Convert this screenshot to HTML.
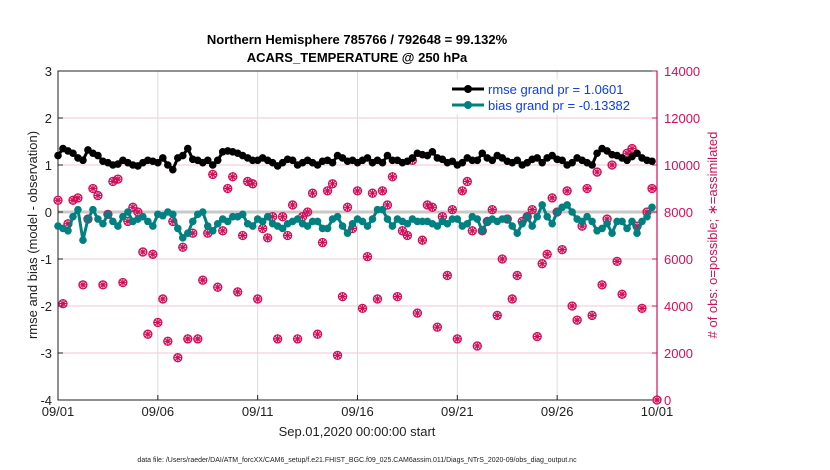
<!DOCTYPE html>
<html><head><meta charset="utf-8"><style>
body{margin:0;background:#fff;}
svg{display:block;font-family:"Liberation Sans",sans-serif;}
</style></head><body>
<svg id="chart" width="830" height="470">
<rect width="830" height="470" fill="#fff"/>
</svg>
<script>
const dateTicks=["09/01","09/06","09/11","09/16","09/21","09/26","10/01"];
const leftTicks=[3,2,1,0,-1,-2,-3,-4];
const rightTicks=[0,2000,4000,6000,8000,10000,12000,14000];
const rmse=[1.2,1.35,1.3,1.25,1.15,1.1,1.32,1.25,1.2,1.08,1.05,1.0,1.02,1.1,1.05,1.0,0.98,1.05,1.1,1.08,1.05,1.15,1.0,0.9,1.15,1.2,1.35,1.12,1.1,1.05,1.1,1.0,1.1,1.28,1.3,1.28,1.25,1.2,1.15,1.1,1.1,1.15,1.1,1.05,0.98,1.05,1.12,1.1,1.0,1.05,1.1,1.05,1.0,1.08,1.1,1.05,1.2,1.15,1.08,1.1,1.05,1.1,1.15,1.05,1.1,1.05,1.2,1.1,1.1,1.05,1.08,1.15,1.25,1.22,1.2,1.28,1.15,1.12,1.05,1.08,1.0,1.05,1.15,1.1,1.1,1.25,1.15,1.1,1.2,1.15,1.08,1.05,1.1,1.0,1.05,1.12,1.15,1.05,1.15,1.2,1.12,1.1,1.0,1.05,1.15,1.1,1.05,1.0,1.25,1.35,1.3,1.22,1.2,1.15,1.1,1.18,1.25,1.15,1.1,1.08];
const bias=[-0.3,-0.35,-0.4,-0.1,0.05,-0.6,-0.15,0.05,-0.15,-0.25,-0.05,-0.2,-0.3,-0.1,0.0,-0.2,-0.15,-0.1,-0.2,-0.3,-0.05,-0.08,0.0,-0.05,-0.35,-0.55,-0.45,-0.2,-0.05,0.0,-0.3,-0.4,-0.25,-0.15,-0.2,-0.1,-0.1,-0.05,-0.25,-0.3,-0.15,-0.2,-0.1,-0.25,-0.3,-0.35,-0.25,-0.2,-0.15,-0.25,-0.3,-0.2,-0.2,-0.35,-0.35,-0.15,-0.1,-0.3,-0.45,-0.25,-0.15,-0.2,-0.3,-0.15,0.05,0.05,-0.15,-0.3,-0.15,-0.2,-0.25,-0.15,-0.2,-0.2,-0.2,-0.25,-0.3,-0.2,-0.25,-0.15,-0.15,-0.3,-0.25,-0.1,-0.15,-0.4,-0.2,-0.15,-0.2,-0.15,-0.15,-0.3,-0.45,-0.25,-0.1,-0.3,-0.1,0.15,-0.1,-0.25,0.0,0.1,0.15,0.0,-0.15,-0.2,-0.1,-0.2,-0.4,-0.35,-0.25,-0.45,-0.2,-0.2,-0.35,-0.2,-0.45,-0.2,-0.1,0.1];
const obs=[8500,4100,7500,8500,8600,4900,7700,9000,8700,4900,7900,9300,9400,5000,7600,8200,8000,6300,2800,6200,3300,4300,2500,7600,1800,6500,2600,7100,2600,5100,7100,9600,4800,7200,9000,9500,4600,7000,9300,9200,4300,7300,6900,7800,2600,7800,7000,8300,2600,7800,8000,8800,2800,6700,8900,9200,1900,4400,8200,7300,8900,3900,6100,8800,4300,8900,8300,9500,4400,7200,7000,10200,3700,6800,8300,8200,3100,7800,5300,8100,2600,8900,9300,7200,2300,7200,7600,8100,3600,6000,7700,4300,5300,7600,7800,8100,2700,5800,6200,8600,8000,6400,8900,4000,3400,7400,9000,3600,9700,4900,7700,10000,5900,4500,10500,10700,7400,3900,8000,9000,0];
const NS="http://www.w3.org/2000/svg";
const svg=document.getElementById("chart");
const X0=58,X1=657,Y0=71,Y1=400;
const xIdx=i=>X0+i*(X1-X0)/120;
const xDay=d=>X0+d*(X1-X0)/30;
const yL=v=>Y0+(3-v)*(Y1-Y0)/7;
const yR=v=>Y1-v*(Y1-Y0)/14000;
function el(tag,attrs,parent){const e=document.createElementNS(NS,tag);for(const k in attrs)e.setAttribute(k,attrs[k]);(parent||svg).appendChild(e);return e;}
const grid=el("g",{});


leftTicks.forEach(t=>{el("line",{x1:X0,x2:X1,y1:yL(t),y2:yL(t),stroke:"#f6c6d6","stroke-width":1},grid);});
dateTicks.forEach((t,k)=>{el("line",{x1:xDay(k*5),x2:xDay(k*5),y1:Y0,y2:Y1,stroke:"#dcdcdc","stroke-width":1},grid);});
el("line",{x1:X0,x2:X1,y1:yL(0),y2:yL(0),stroke:"#c8c8c8","stroke-width":3},grid);
const ax=el("g",{});


el("rect",{x:X0,y:Y0,width:X1-X0,height:Y1-Y0,fill:"none",stroke:"#222","stroke-width":1},ax);
el("line",{x1:X1,x2:X1,y1:Y0,y2:Y1,stroke:"#d0105a","stroke-width":1.2},ax);
leftTicks.forEach(t=>{
 el("line",{x1:X0,x2:X0+5,y1:yL(t),y2:yL(t),stroke:"#222"},ax);
 const tx=el("text",{x:X0-6,y:yL(t)+5,"text-anchor":"end","font-size":13,fill:"#222"},ax);tx.textContent=t;
 
 
});
rightTicks.forEach(t=>{
 el("line",{x1:X1-5,x2:X1,y1:yR(t),y2:yR(t),stroke:"#d0105a"},ax);
 const tx=el("text",{x:X1+7,y:yR(t)+5,"font-size":13,fill:"#d0105a"},ax);tx.textContent=t;
 
 
});
dateTicks.forEach((t,k)=>{
 el("line",{x1:xDay(k*5),x2:xDay(k*5),y1:Y1,y2:Y1-5,stroke:"#222"},ax);
 const tx=el("text",{x:xDay(k*5),y:Y1+16,"text-anchor":"middle","font-size":13,fill:"#222"},ax);tx.textContent=t;
 
 
});
const og=el("g",{});


obs.forEach((v,i)=>{
 const x=xIdx(i),y=yR(v);
 const c=el("circle",{cx:x,cy:y,r:4,fill:"none",stroke:"#d0105a","stroke-width":1.3},og);
 
 
 const s=4.5,d=3.2;
 el("path",{d:`M${x-s},${y}H${x+s}M${x},${y-s}V${y+s}M${x-d},${y-d}L${x+d},${y+d}M${x-d},${y+d}L${x+d},${y-d}`,stroke:"#d0105a","stroke-width":1.2,fill:"none"},og);
});
function series(vals,color,name){
 const g=el("g",{});
 
 
 el("polyline",{points:vals.map((v,i)=>xIdx(i)+","+yL(v)).join(" "),fill:"none",stroke:color,"stroke-width":3},g);
 vals.forEach((v,i)=>{const c=el("circle",{cx:xIdx(i),cy:yL(v),r:3.8,fill:color},g);
  
  });
}
series(rmse,"#000","rmse-series");
series(bias,"#008080","bias-series");
const lg=el("g",{});


el("rect",{x:447,y:80,width:198,height:34,fill:"#fff",stroke:"#fff"},lg);
el("line",{x1:452,x2:484,y1:89,y2:89,stroke:"#000","stroke-width":3},lg);
el("circle",{cx:468,cy:89,r:4,fill:"#000"},lg);
let lt=el("text",{x:488,y:94,"font-size":13,fill:"#0b3cf0"},lg);lt.textContent="rmse grand pr = 1.0601";


el("line",{x1:452,x2:484,y1:105,y2:105,stroke:"#008080","stroke-width":3},lg);
el("circle",{cx:468,cy:105,r:4,fill:"#008080"},lg);
lt=el("text",{x:488,y:110,"font-size":13,fill:"#0b3cf0"},lg);lt.textContent="bias grand pr = -0.13382";


function txt(s,attrs,name){const t=el("text",attrs);t.textContent=s;return t;}
txt("Northern Hemisphere 785766 / 792648 = 99.132%",{x:357,y:44,"text-anchor":"middle","font-size":13,"font-weight":"bold",fill:"#000"},"chart-title");
txt("ACARS_TEMPERATURE @ 250 hPa",{x:357,y:62,"text-anchor":"middle","font-size":13,"font-weight":"bold",fill:"#000"},"chart-subtitle");
txt("Sep.01,2020 00:00:00 start",{x:357,y:436,"text-anchor":"middle","font-size":13,fill:"#222"},"x-axis-title");
txt("rmse and bias (model - observation)",{x:0,y:0,transform:"translate(37,235) rotate(-90)","text-anchor":"middle","font-size":13,fill:"#222"},"y-axis-title");
txt("# of obs: o=possible; \u2217=assimilated",{x:0,y:0,transform:"translate(717,235) rotate(-90)","text-anchor":"middle","font-size":13,fill:"#d0105a"},"right-axis-title");
txt("data file: /Users/raeder/DAI/ATM_forcXX/CAM6_setup/f.e21.FHIST_BGC.f09_025.CAM6assim.011/Diags_NTrS_2020-09/obs_diag_output.nc",{x:357,y:462,"text-anchor":"middle","font-size":7,fill:"#222"},"data-file-note");
</script>
</body></html>
